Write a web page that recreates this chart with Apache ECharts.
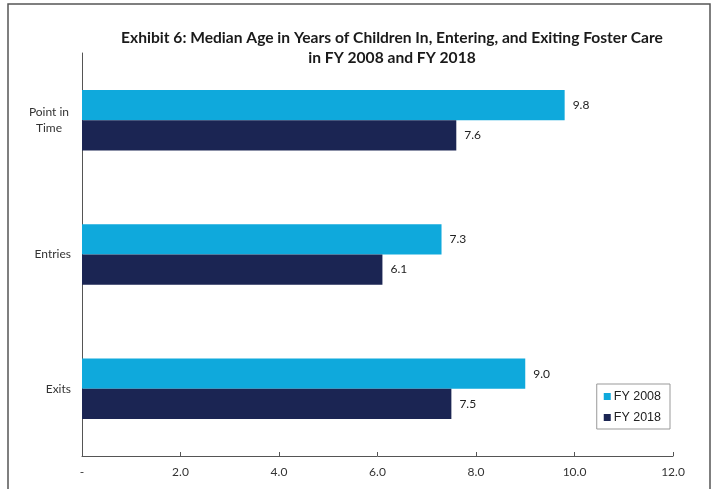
<!DOCTYPE html>
<html>
<head>
<meta charset="utf-8">
<script src="https://cdn.jsdelivr.net/npm/echarts@6/dist/echarts.min.js"></script>
<style>
html,body{margin:0;padding:0;background:#fff;}
#main{width:717px;height:489px;}
</style>
</head>
<body>
<div id="main"></div>
<script>
var categories = ['Point in Time', 'Entries', 'Exits'];
var seriesNames = ['FY 2008', 'FY 2018'];
var fy2008 = [9.8, 7.3, 9.0];
var fy2018 = [7.6, 6.1, 7.5];
var xTicks = [0, 2, 4, 6, 8, 10, 12];

var chart = echarts.init(document.getElementById('main'));
var labelCfg = {
  show: true, position: 'right', distance: 8,
  fontFamily: 'Lato', fontSize: 12, color: '#222',
  formatter: function (p) { return p.value.toFixed(1); }
};
chart.setOption({
  backgroundColor: '#fff',
  animation: false,
  title: {
    text: 'Exhibit 6: Median Age in Years of Children In, Entering, and Exiting Foster Care\nin FY 2008 and FY 2018',
    left: 387, top: 23, textAlign: 'center',
    textStyle: { fontFamily: 'Lato', fontWeight: 'bold', fontSize: 15.6, color: '#1a1a1a', lineHeight: 20 }
  },
  legend: {
    orient: 'vertical', right: 47, top: 384,
    data: seriesNames,
    icon: 'rect', itemWidth: 7, itemHeight: 7, itemGap: 8,
    borderColor: '#999', borderWidth: 1, padding: [6, 9, 5, 7],
    textStyle: { fontFamily: 'Liberation Sans', fontSize: 12.5, color: '#222', padding: [0, 0, 0, -2] }
  },
  grid: { left: 82, right: 44, top: 53, bottom: 33 },
  xAxis: {
    type: 'value', min: xTicks[0], max: xTicks[xTicks.length - 1], interval: 2,
    axisLine: { show: true, lineStyle: { color: '#555', width: 1 } },
    axisTick: { show: true, inside: true, length: 4, lineStyle: { color: '#555' } },
    splitLine: { show: false },
    axisLabel: {
      fontFamily: 'Lato', fontSize: 12, color: '#333', margin: 10,
      formatter: function (v) { return v === 0 ? '-' : v.toFixed(1); }
    }
  },
  yAxis: {
    type: 'category', data: categories, inverse: true,
    axisLine: { show: true, lineStyle: { color: '#555', width: 1 } },
    axisTick: { show: false },
    axisLabel: {
      fontFamily: 'Lato', fontSize: 12, color: '#333', margin: 11,
      formatter: function (v) { return v === 'Point in Time' ? '{c|Point in}\n{c|Time}' : v; },
      rich: { c: { width: 44, align: 'center', fontFamily: 'Lato', fontSize: 12, color: '#333', lineHeight: 16 } }
    }
  },
  series: [
    { name: seriesNames[0], type: 'bar', data: fy2008, barGap: '0%', barCategoryGap: '55%',
      itemStyle: { color: '#0fa9dc' }, label: labelCfg },
    { name: seriesNames[1], type: 'bar', data: fy2018, barGap: '0%', barCategoryGap: '55%',
      itemStyle: { color: '#1b2553' }, label: labelCfg }
  ],
  graphic: [{
    type: 'rect', shape: { x: 8, y: 4, width: 702, height: 520 },
    style: { fill: 'none', stroke: '#555', lineWidth: 1.5 }, silent: true
  }]
});
</script>
</body>
</html>
